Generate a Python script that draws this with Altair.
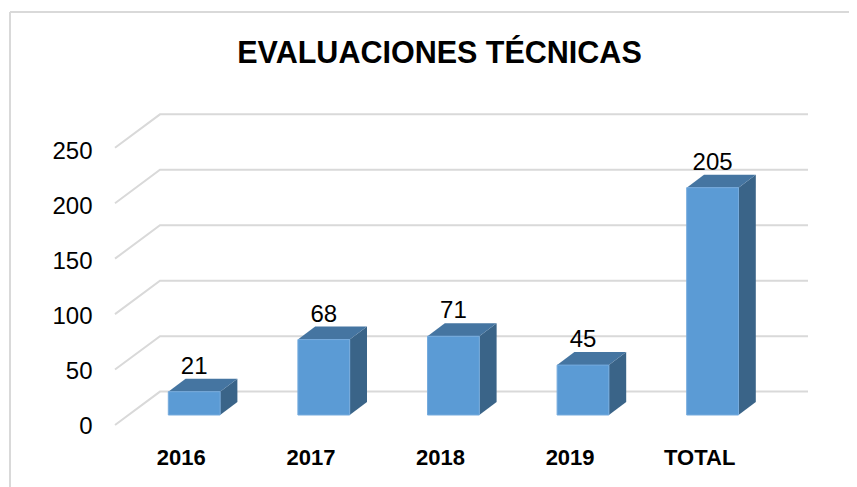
import altair as alt
import pandas as pd

categories = ["2016", "2017", "2018", "2019", "TOTAL"]
values = [21, 68, 71, 45, 205]
ticks = [0, 50, 100, 150, 200, 250]
title = "EVALUACIONES TÉCNICAS"

# page geometry (pixels)
L, R, T, B = 115, 808, 90, 425
W, H = R - L, B - T
STEP = 129.6
C0 = 194.2
PX_Y = 1.109
HALF = 25.9 / STEP
DX = 17.3 / STEP
DY = 13 / PX_Y
BACK_X = (160 - C0) / STEP
WALL_BACK = (415 - 391.6) / PX_Y
WALL_FRONT = -10 / PX_Y

x_scale = alt.Scale(domain=[(L - C0) / STEP, (R - C0) / STEP], nice=False, zero=False)
y_scale = alt.Scale(domain=[-10 / PX_Y, (415 - T) / PX_Y], nice=False, zero=False)
axis_scale = alt.Scale(domain=[0, H / 1.10], nice=False, zero=False)

FONT = "Liberation Sans"
label_array = "[" + ",".join(f"'{c}'" for c in categories) + "]"
x_axis = alt.Axis(
    values=list(range(len(categories))),
    labelExpr=f"{label_array}[datum.value]",
    labelOffset=-13.4,
    labelFont=FONT,
    labelFontSize=22,
    labelFontWeight="bold",
    labelColor="#000000",
    labelPadding=22,
    labelBaseline="top",
    labelFlush=False,
    labelOverlap=False,
    domain=False,
    ticks=False,
    grid=False,
)
X = alt.X("x:Q", scale=x_scale, axis=x_axis, title=None)
Y = alt.Y("y:Q", scale=y_scale, axis=None, stack=None)

front = pd.DataFrame(
    [{"x": i - HALF, "x2": i + HALF, "y": 0, "y2": v} for i, v in enumerate(values)]
)
top = pd.DataFrame(
    [
        row
        for i, v in enumerate(values)
        for row in (
            {"k": i, "x": i - HALF, "x2": i + HALF, "y": v},
            {"k": i, "x": i - HALF + DX, "x2": i + HALF + DX, "y": v + DY},
        )
    ]
)
side = pd.DataFrame(
    [
        row
        for i, v in enumerate(values)
        for row in (
            {"k": i, "x": i + HALF, "y": 0, "y2": v},
            {"k": i, "x": i + HALF + DX, "y": DY, "y2": v + DY},
        )
    ]
)
grid = pd.DataFrame(
    [
        row
        for t in ticks
        for row in (
            {"t": t, "o": 0, "x": (L - C0) / STEP, "y": t + WALL_FRONT},
            {"t": t, "o": 1, "x": BACK_X, "y": t + WALL_BACK},
            {"t": t, "o": 2, "x": (R - C0) / STEP, "y": t + WALL_BACK},
        )
    ]
)
labels = pd.DataFrame(
    {"x": list(range(len(values))), "y": [v + DY for v in values], "label": [str(v) for v in values]}
)
axes_df = pd.DataFrame({"x": list(range(len(categories))), "t": [ticks[0]] * len(categories)})

axis_layer = (
    alt.Chart(axes_df)
    .mark_point(opacity=0)
    .encode(
        x=X,
        y=alt.Y(
            "t:Q",
            scale=axis_scale,
            title=None,
            axis=alt.Axis(
                values=ticks,
                labelFont=FONT,
                labelFontSize=24,
                labelColor="#000000",
                labelPadding=23,
                labelOffset=1.5,
                labelOverlap=False,
                labelFlush=False,
                domain=False,
                ticks=False,
                grid=False,
            ),
        ),
    )
)

grid_layer = (
    alt.Chart(grid)
    .mark_line(color="#D9D9D9", strokeWidth=2, clip=False)
    .encode(x=X, y=Y, detail="t:N", order="o:Q")
)
side_layer = (
    alt.Chart(side)
    .mark_area(color="#3A6488", orient="vertical")
    .encode(x=X, y=Y, y2="y2:Q", detail="k:N")
)
top_layer = (
    alt.Chart(top)
    .mark_area(color="#4575A1", orient="horizontal")
    .encode(x=X, x2="x2:Q", y=Y, detail="k:N")
)
front_layer = (
    alt.Chart(front)
    .mark_rect(color="#5B9BD5", stroke="#76ABDD", strokeWidth=1)
    .encode(x=X, x2="x2:Q", y=Y, y2="y2:Q")
)
text_layer = (
    alt.Chart(labels)
    .mark_text(font=FONT, fontSize=24, color="#000000", baseline="middle", dy=-12)
    .encode(x=X, y=Y, text="label:N")
)

border_top = alt.Chart(axes_df.head(1)).mark_rule(color="#D9D9D9", strokeWidth=2, clip=False).encode(
    x=alt.value(10 - L), x2=alt.value(849 - L), y=alt.value(12 - T)
)
border_left = alt.Chart(axes_df.head(1)).mark_rule(color="#D9D9D9", strokeWidth=2, clip=False).encode(
    x=alt.value(10 - L), y=alt.value(12 - T), y2=alt.value(487 - T)
)

chart = (
    alt.layer(
        axis_layer,
        border_top,
        border_left,
        grid_layer,
        side_layer,
        top_layer,
        front_layer,
        text_layer,
    )
    .resolve_scale(y="independent")
    .properties(
        width=W,
        height=H,
        padding={"left": L - 8, "right": 857 - 8 - R, "top": T - 8, "bottom": 487 - B},
        autosize=alt.AutoSizeParams(type="none"),
        background="#FFFFFF",
        title=alt.TitleParams(
            title,
            font=FONT,
            fontSize=30.5,
            fontWeight="bold",
            color="#000000",
            anchor="middle",
            dx=-22,
            offset=-58,
        ),
    )
    .configure_view(stroke=None)
)

chart.save("out.html", embed_options={"renderer": "svg", "actions": False})
